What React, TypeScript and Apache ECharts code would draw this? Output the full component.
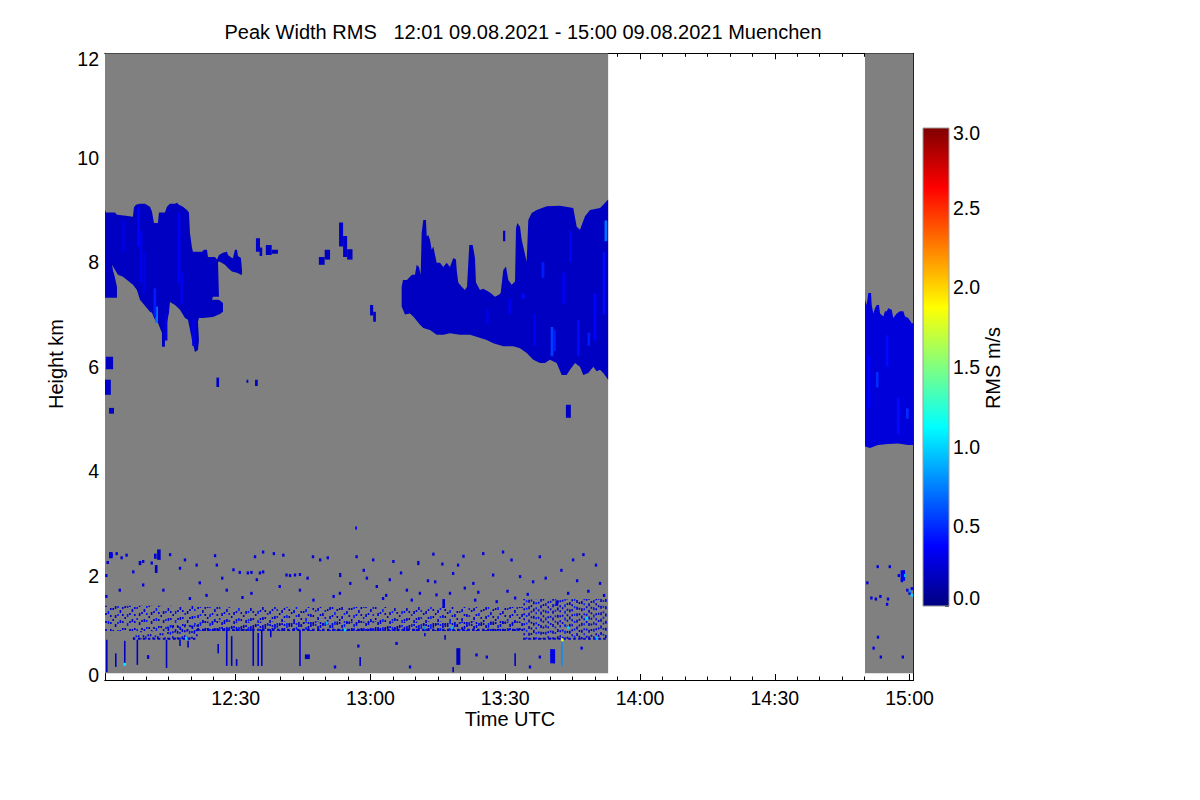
import React, { useEffect, useRef } from 'react';
import * as echarts from 'echarts';

const FONT = '"Liberation Sans", Arial, Helvetica, sans-serif';

const TITLE = 'Peak Width RMS   12:01 09.08.2021 - 15:00 09.08.2021 Muenchen';
const X_NAME = 'Time UTC';
const Y_NAME = 'Height km';
const CB_NAME = 'RMS m/s';

// time in minutes after 12:00 UTC, height in km, RMS in m/s
const timeRange = [0.9, 180.83];
const heightRange = [0, 12];
const rmsRange = [0, 3];
const xMajorMinutes = [30, 60, 90, 120, 150, 180];
const xMajorLabels = ['12:30', '13:00', '13:30', '14:00', '14:30', '15:00'];
const xMinorMinutes = [5, 10, 15, 20, 25, 35, 40, 45, 50, 55, 65, 70, 75, 80, 85, 95, 100, 105, 110, 115, 125, 130, 135, 140, 145, 155, 160, 165, 170, 175];

// periods with measurements (gray = no signal)
const coverage = [[0.9, 112.9], [170.08, 180.83]];
const coverageHeights = [0.13, 12];

// upper cloud outlines [minute, km]
const cloudA = [
  [0.89, 9.0], [1.11, 8.95], [3.12, 8.95], [3.56, 8.91], [5.57, 8.89], [7.12, 8.87], [7.35, 9.05], [7.79, 9.1], [8.68, 9.12], [9.8, 9.12], [10.91, 9.06], [11.35, 8.97], [11.8, 8.75], [12.69, 8.75], [12.91, 8.95], [14.25, 8.95], [14.69, 9.06], [15.36, 9.12], [16.47, 9.12], [16.92, 9.14], [17.36, 9.1], [18.25, 9.06], [19.14, 9.0], [19.59, 8.95], [19.81, 8.56], [20.26, 8.28], [20.48, 8.2], [22.48, 8.2], [22.93, 8.24], [23.6, 8.24], [23.82, 8.1], [25.38, 8.1], [25.82, 8.05], [26.27, 8.14], [27.16, 8.18], [28.05, 8.2], [28.27, 8.14], [29.16, 8.08], [29.39, 8.08], [29.83, 8.24], [30.28, 8.24], [30.5, 8.12], [31.17, 8.08], [31.39, 7.85], [31.39, 7.76],
  [31.17, 7.76], [30.28, 7.8], [29.16, 7.82], [28.27, 7.89], [27.6, 7.95], [26.49, 8.01], [26.05, 8.01], [26.27, 7.34], [24.93, 7.34], [24.71, 7.28], [26.27, 7.28], [27.16, 7.22], [27.16, 7.05], [26.49, 7.01], [24.93, 6.95], [22.71, 6.93], [21.82, 6.93], [21.59, 6.86], [21.82, 6.51], [21.59, 6.32], [20.93, 6.28], [20.26, 6.51], [20.04, 6.61], [19.37, 6.9], [18.7, 6.93], [17.59, 7.09], [16.47, 7.18], [15.36, 7.24], [15.14, 7.03], [14.69, 6.84], [14.25, 6.57], [14.25, 6.38], [13.58, 6.38], [13.58, 6.65], [13.13, 6.74], [12.69, 6.84], [12.02, 6.9], [11.35, 7.03], [10.91, 7.05], [8.68, 7.28], [8.01, 7.47], [7.12, 7.57], [4.9, 7.72], [3.78, 7.76], [2.45, 7.95], [2.67, 7.85], [3.12, 7.7], [3.56, 7.53], [3.56, 7.32], [0.89, 7.32],
];
const cloudB = [
  [66.94, 7.53], [67.23, 7.66], [68.12, 7.66], [69.23, 7.76], [69.9, 7.76], [70.28, 7.95], [70.79, 7.91], [71.17, 7.76], [71.39, 8.56], [71.75, 8.81], [72.35, 8.81], [72.51, 8.49], [72.86, 8.52], [73.24, 8.43], [73.62, 8.24], [73.98, 8.3], [74.73, 7.99], [75.47, 7.99], [76.2, 7.91], [76.96, 7.99], [77.69, 7.91], [78.43, 8.08], [79.03, 8.05], [79.19, 7.85], [79.54, 7.61], [80.3, 7.53], [81.03, 7.47], [81.48, 7.53], [81.99, 8.33], [82.75, 8.33], [83.26, 8.08], [83.48, 7.61], [84.37, 7.47], [85.11, 7.49], [86.6, 7.42], [87.71, 7.34], [88.67, 7.38], [88.98, 7.41], [89.56, 7.85], [90.16, 7.92], [90.67, 7.66], [91.43, 7.57], [92.17, 7.63], [92.39, 8.65], [92.68, 8.75], [93.28, 8.68], [93.66, 8.43], [94.77, 8.01], [95.13, 8.81], [95.88, 8.94], [97.0, 9.0], [99.22, 9.07], [102.18, 9.08], [105.14, 9.04], [105.9, 8.68], [106.63, 8.62], [107.75, 8.88], [108.86, 9.0], [111.09, 9.04], [111.82, 9.1], [112.9, 9.2],
  [112.9, 5.75], [111.82, 5.88], [111.09, 5.94], [110.35, 5.91], [109.6, 6.0], [108.48, 5.88], [107.37, 5.84], [106.63, 6.0], [105.52, 6.07], [104.41, 5.94], [103.67, 5.84], [102.56, 5.84], [101.45, 6.07], [99.96, 6.13], [98.84, 6.07], [97.73, 6.07], [96.24, 6.13], [94.77, 6.26], [93.28, 6.35], [91.79, 6.39], [89.56, 6.39], [87.33, 6.45], [85.86, 6.51], [82.15, 6.61], [79.92, 6.61], [77.69, 6.64], [76.2, 6.61], [74.73, 6.61], [73.24, 6.7], [71.75, 6.74], [71.02, 6.8], [69.52, 6.96], [68.79, 7.02], [67.68, 7.0], [66.94, 7.15],
];
const cloudC = [
  [170.08, 7.28], [170.46, 7.18], [170.82, 7.41], [171.42, 7.41], [171.57, 7.18], [171.93, 7.02], [172.31, 7.12], [172.69, 7.18], [173.2, 7.18], [173.42, 7.02], [174.16, 6.96], [174.53, 7.06], [174.91, 7.06], [175.26, 7.12], [176.02, 7.09], [176.38, 6.93], [177.14, 7.02], [177.87, 7.06], [178.61, 7.06], [178.99, 6.96], [179.72, 6.93], [180.48, 6.83], [180.83, 6.83],
  [180.83, 4.5], [179.65, 4.5], [177.43, 4.53], [175.2, 4.52], [172.97, 4.5], [171.19, 4.44], [170.08, 4.47],
];
const cloudOutlines = [cloudA, cloudB, cloudC];
const cloudRms = [0.2, 0.2, 0.27];

// brighter vertical streaks inside the clouds [minute, km bottom, km top, rms]
const cloudStreaks = [
  [8.4, 8.3, 9.05, 0.38], [8.9, 7.6, 8.6, 0.33], [9.6, 7.4, 8.2, 0.3], [12.4, 6.84, 7.15, 0.7], [12.0, 6.95, 7.5, 0.45], [17.4, 7.6, 8.95, 0.35], [18.0, 7.2, 7.8, 0.32], [5.0, 8.2, 8.8, 0.3], [20.6, 6.4, 6.9, 0.3], [14.5, 6.5, 7.0, 0.3],
  [98.4, 7.7, 8.0, 0.45], [100.4, 6.2, 6.76, 0.55], [101.0, 6.3, 6.7, 0.45], [108.6, 6.4, 6.65, 0.45], [112.4, 8.4, 8.8, 0.7], [112.0, 7.0, 8.2, 0.4], [94.0, 7.3, 7.4, 0.4], [104.5, 8.0, 8.6, 0.35], [106.3, 6.2, 6.9, 0.4], [110.0, 6.5, 7.4, 0.38], [96.5, 6.4, 7.0, 0.35], [103.0, 7.2, 7.8, 0.35], [91.0, 7.0, 7.3, 0.33], [86.0, 6.8, 7.1, 0.3],
  [172.8, 5.6, 5.9, 0.5], [179.5, 5.0, 5.2, 0.5], [175.0, 6.0, 6.6, 0.4], [177.5, 4.7, 5.4, 0.4], [171.0, 5.2, 6.2, 0.38],
];

// isolated echo patches [minute from, minute to, km bottom, km top, rms]
const patches = [
  [1.1, 2.7, 5.95, 6.19, 0.2], [0.9, 2.2, 5.46, 5.75, 0.22], [1.8, 2.9, 5.1, 5.21, 0.2], [25.7, 26.3, 5.61, 5.79, 0.2], [32.4, 32.8, 5.69, 5.75, 0.2], [34.3, 34.9, 5.63, 5.75, 0.2],
  [34.5, 35.4, 8.2, 8.46, 0.22], [35.3, 35.9, 8.12, 8.28, 0.2], [36.7, 38.0, 8.14, 8.33, 0.2], [38.0, 39.4, 8.16, 8.24, 0.2], [48.5, 49.8, 7.95, 8.1, 0.2], [49.8, 51.0, 8.05, 8.24, 0.2],
  [53.0, 53.9, 8.3, 8.76, 0.22], [53.9, 54.8, 8.1, 8.5, 0.22], [54.8, 56.0, 8.05, 8.25, 0.2], [59.9, 60.6, 6.98, 7.18, 0.2], [60.6, 61.2, 6.86, 7.05, 0.2], [103.5, 104.6, 5.02, 5.27, 0.2], [89.5, 90.0, 8.4, 8.6, 0.2], [56.6, 57.0, 2.88, 2.94, 0.3],
  [12.0, 12.6, 2.05, 2.2, 0.2], [12.5, 13.3, 2.3, 2.5, 0.2], [11.8, 12.4, 2.32, 2.42, 0.25], [1.8, 2.6, 2.33, 2.45, 0.25], [8.4, 9.0, 2.2, 2.28, 0.2], [53.0, 53.5, 1.97, 2.05, 0.2], [70.4, 70.9, 2.2, 2.28, 0.2],
  [76.0, 76.6, 1.38, 1.55, 0.25], [101.2, 101.8, 1.42, 1.52, 0.25], [79.1, 80.0, 0.29, 0.61, 0.2], [45.4, 46.5, 0.4, 0.49, 0.2], [100.0, 101.1, 0.32, 0.59, 0.3], [178.0, 179.0, 1.9, 2.1, 0.35],
];

// boundary-layer clutter band [minute from, minute to, km bottom, km top, density]
const clutterBand = [
  [0.9, 21.4, 0.94, 1.42, 1], [21.4, 94.0, 0.94, 1.4, 1], [21.4, 94.0, 0.94, 1.12, 1], [94.0, 112.9, 0.78, 1.55, 2], [7.1, 14.7, 0.78, 0.94, 1], [14.7, 21.4, 0.78, 1.05, 2],
];
const clutterEdges = [[21.4, 94.0, 0.96], [7.1, 21.4, 0.79], [94.0, 112.9, 0.79]];

// single echo pixels [minute, km]
const echoDots = [
  [2.4, 2.39], [3.5, 2.42], [4.6, 2.34], [5.7, 2.39], [7.2, 2.07], [9.4, 2.27], [11.3, 2.24], [15.4, 2.4], [17.6, 2.14], [18.7, 2.3], [21.3, 2.2], [22.0, 1.86], [25.4, 2.38], [25.8, 2.2], [29.5, 2.11], [30.9, 2.06], [32.7, 2.05], [33.5, 2.06], [35.4, 2.05], [36.1, 2.07], [34.3, 2.36], [36.1, 2.45], [40.6, 2.39], [41.3, 2.01], [42.1, 2.0], [43.2, 2.01], [44.3, 2.02], [47.2, 2.36], [48.8, 2.3], [50.5, 2.34], [56.9, 2.36], [59.2, 1.95], [60.6, 2.3], [64.3, 1.92], [65.1, 2.27], [74.0, 2.41], [74.4, 1.88], [77.7, 1.66], [78.4, 2.04], [79.5, 2.2], [80.7, 2.37], [82.9, 1.85], [85.1, 2.42], [87.3, 2.01], [91.4, 2.3], [93.3, 1.98], [96.2, 1.88], [97.7, 2.36], [105.1, 2.3], [107.4, 2.4], [111.1, 1.85],
  [83.3, 1.53], [88.1, 1.5], [44.3, 1.72], [47.3, 1.53], [53.2, 1.66], [61.4, 1.79], [62.8, 1.56], [68.1, 1.72], [69.2, 1.53], [71.0, 1.66], [74.7, 1.63], [81.0, 1.76], [92.2, 1.57], [4.2, 1.72], [9.4, 1.82], [13.9, 1.72], [19.8, 1.56], [28.0, 1.72], [33.5, 1.66], [34.7, 1.92], [39.8, 1.79],
  [1.2, 2.0], [1.2, 1.6], [1.5, 2.25], [23.5, 1.62], [27.0, 1.95], [31.5, 1.58], [38.5, 2.42], [46.0, 1.95], [51.8, 1.6], [55.5, 1.85], [58.5, 2.1], [63.5, 1.62], [66.8, 2.05], [72.8, 1.9], [76.0, 2.22], [84.0, 1.68], [89.5, 2.45], [90.5, 1.7], [95.0, 1.64], [99.0, 1.95], [102.5, 2.1], [104.0, 1.66], [106.0, 1.9], [108.5, 1.7], [110.2, 2.2], [112.0, 1.62],
  [52.1, 0.25], [57.3, 0.65], [65.8, 0.7], [68.8, 0.25], [85.9, 0.44], [83.6, 0.48], [95.5, 0.25], [107.0, 0.61], [97.7, 0.44], [10.5, 0.44],
  [172.9, 2.17], [175.6, 2.17], [170.6, 1.86], [171.5, 1.57], [172.5, 1.55], [173.5, 1.6], [175.0, 1.45], [175.2, 1.55], [177.6, 2.0], [178.3, 1.9], [178.7, 2.07], [179.5, 1.72], [180.0, 1.66], [180.5, 1.75], [172.97, 0.82], [172.0, 0.61], [173.6, 0.44], [178.5, 0.44],
];
// brighter single pixels [minute, km, rms]
const brightDots = [
  [19.0, 0.8, 1.0], [50.3, 1.09, 0.9], [54.3, 0.96, 1.0], [72.1, 1.0, 0.8], [78.1, 1.0, 0.9], [102.7, 0.77, 1.9], [104.0, 1.0, 1.0], [108.2, 1.18, 1.0], [110.4, 0.8, 0.9], [5.3, 0.3, 1.1], [179.0, 2.0, 0.9], [180.2, 1.7, 0.8], [180.5, 1.62, 1.0],
];
// thin vertical streaks below the clutter band [minute, km bottom, km top, rms]
const lowStreaks = [
  [1.3, 0.15, 0.77, 0.2], [3.3, 0.25, 0.51, 0.2], [5.3, 0.27, 0.75, 0.2], [8.1, 0.29, 0.77, 0.2], [10.5, 0.4, 0.48, 0.2], [14.6, 0.23, 0.77, 0.2], [17.6, 0.65, 0.77, 0.2], [19.4, 0.62, 0.75, 0.2], [26.1, 0.51, 0.69, 0.2], [28.0, 0.27, 0.96, 0.22], [29.1, 0.27, 0.84, 0.22], [30.2, 0.27, 0.4, 0.2], [33.9, 0.27, 0.96, 0.22], [35.0, 0.27, 0.9, 0.22], [35.8, 0.27, 0.96, 0.22], [37.8, 0.82, 0.96, 0.2], [44.3, 0.27, 0.96, 0.22], [57.7, 0.27, 0.44, 0.2], [72.1, 0.84, 0.9, 0.2], [76.6, 0.77, 0.86, 0.2], [78.4, 0.15, 0.25, 0.2], [92.2, 0.27, 0.51, 0.2], [102.6, 0.27, 0.77, 0.8], [100.3, 0.4, 0.59, 0.3], [100.8, 0.32, 0.5, 0.3],
];

function jet(v: number): string {
  const x = Math.max(0, Math.min(1, (v - rmsRange[0]) / (rmsRange[1] - rmsRange[0])));
  const c = (q: number) => Math.round(255 * Math.max(0, Math.min(1, 1.5 - Math.abs(4 * x - q))));
  return `rgb(${c(3)},${c(2)},${c(1)})`;
}

const GRID = { left: 105, top: 53.3, width: 808.3, height: 626.7 };
const CBAR = { left: 923, top: 128, width: 26, height: 478 };
// speckle styling for the clutter band
const SPECKLE_OFFSETS = [0, 3, 7, 1, 5, 9, 2, 6, 10, 4, 8, 1, 6];
const SPECKLE_DASHES = [[2, 6], [3, 7], [2, 5], [2, 9], [3, 6]];

function xAxisDef(position: string, values: number[], len: number, labels: boolean) {
  return {
    type: 'value', gridIndex: 0, position, min: timeRange[0], max: timeRange[1],
    axisLine: { show: true, onZero: false, lineStyle: { color: '#000', width: 1 } },
    axisTick: { show: true, inside: true, length: len, customValues: values, lineStyle: { color: '#000', width: 1 } },
    axisLabel: {
      show: labels, customValues: values, margin: 8, fontSize: 19.5, fontFamily: FONT, color: '#000',
      formatter: (v: number) => { const i = xMajorMinutes.indexOf(Math.round(v)); return i >= 0 ? xMajorLabels[i] : ''; },
    },
    splitLine: { show: false }, minorTick: { show: false },
  };
}

function yAxisDef(position: string, labels: boolean) {
  return {
    type: 'value', gridIndex: 0, position, min: heightRange[0], max: heightRange[1], interval: 2,
    axisLine: { show: true, onZero: false, lineStyle: { color: '#000', width: 1 } },
    axisTick: { show: true, inside: true, length: 6, lineStyle: { color: '#000', width: 1 } },
    minorTick: { show: true, splitNumber: 4, length: 3.5, lineStyle: { color: '#000', width: 1 } },
    axisLabel: {
      show: labels, margin: 6, fontSize: 19.5, fontFamily: FONT, color: '#000',
      formatter: (v: number) => (v === heightRange[1] ? `{top|${v}}` : v === heightRange[0] ? `{bot|${v}}` : String(v)),
      rich: {
        top: { fontSize: 19.5, fontFamily: FONT, color: '#000', padding: [12, 0, 0, 0] },
        bot: { fontSize: 19.5, fontFamily: FONT, color: '#000', padding: [0, 0, 10, 0] },
      },
    },
    splitLine: { show: false },
  };
}

function buildOption() {
  const dark = jet(0.22);
  const bright = jet(0.45);
  const base = { type: 'custom', xAxisIndex: 0, yAxisIndex: 0, silent: true, clip: true };
  return {
    animation: false,
    backgroundColor: '#fff',
    grid: [
      { ...GRID, containLabel: false },
      { ...CBAR, containLabel: false },
    ],
    xAxis: [
      xAxisDef('bottom', xMajorMinutes, 6, true),
      xAxisDef('bottom', xMinorMinutes, 3.5, false),
      xAxisDef('top', xMajorMinutes, 6, false),
      xAxisDef('top', xMinorMinutes, 3.5, false),
      { type: 'value', gridIndex: 1, min: 0, max: 1, show: false },
    ],
    yAxis: [
      yAxisDef('left', true),
      yAxisDef('right', false),
      {
        type: 'value', gridIndex: 1, position: 'right', min: rmsRange[0], max: rmsRange[1], interval: 0.5,
        axisLine: { show: false, onZero: false },
        axisTick: { show: true, inside: true, length: 4, lineStyle: { color: '#333', width: 1 } },
        minorTick: { show: true, splitNumber: 3, length: 4, lineStyle: { color: '#333', width: 1 } },
        axisLabel: {
          margin: 4, fontSize: 19.5, fontFamily: FONT, color: '#000',
          formatter: (v: number) => (v === rmsRange[1] ? `{top|${v.toFixed(1)}}` : v === rmsRange[0] ? `{bot|${v.toFixed(1)}}` : v.toFixed(1)),
          rich: {
            top: { fontSize: 19.5, fontFamily: FONT, color: '#000', padding: [10, 0, 0, 0] },
            bot: { fontSize: 19.5, fontFamily: FONT, color: '#000', padding: [0, 0, 16, 0] },
          },
        },
        splitLine: { show: false },
      },
    ],
    graphic: [
      { type: 'text', x: 523, y: 32, style: { text: TITLE, fontSize: 20, fontFamily: FONT, fill: '#000', align: 'center', verticalAlign: 'middle', textAlign: 'center', textVerticalAlign: 'middle' } },
      { type: 'text', x: 510, y: 719, style: { text: X_NAME, fontSize: 20, fontFamily: FONT, fill: '#000', align: 'center', verticalAlign: 'middle', textAlign: 'center', textVerticalAlign: 'middle' } },
      { type: 'text', x: 56, y: 364, rotation: Math.PI / 2, style: { text: Y_NAME, fontSize: 20, fontFamily: FONT, fill: '#000', align: 'center', verticalAlign: 'middle', textAlign: 'center', textVerticalAlign: 'middle' } },
      { type: 'text', x: 993, y: 368, rotation: Math.PI / 2, style: { text: CB_NAME, fontSize: 20, fontFamily: FONT, fill: '#000', align: 'center', verticalAlign: 'middle', textAlign: 'center', textVerticalAlign: 'middle' } },
    ],
    series: [
      {
        ...base, data: coverage,
        renderItem: (params: any, api: any) => {
          const p0 = api.coord([api.value(0), coverageHeights[1]]);
          const p1 = api.coord([api.value(1), coverageHeights[0]]);
          return { type: 'rect', shape: { x: p0[0], y: p0[1], width: p1[0] - p0[0], height: p1[1] - p0[1] }, style: { fill: '#808080' } };
        },
      },
      {
        ...base, data: cloudOutlines.map((c, i) => [c[0][0], c[0][1], cloudRms[i]]),
        renderItem: (params: any, api: any) => {
          const pts = cloudOutlines[params.dataIndex].map((p) => api.coord(p));
          return { type: 'polygon', shape: { points: pts }, style: { fill: jet(cloudRms[params.dataIndex]) } };
        },
      },
      {
        ...base, data: cloudStreaks,
        renderItem: (params: any, api: any) => {
          const [t, h0, h1, v] = cloudStreaks[params.dataIndex];
          const a = api.coord([t - 0.3, h1]);
          const b = api.coord([t + 0.3, h0]);
          return { type: 'rect', shape: { x: a[0], y: a[1], width: b[0] - a[0], height: b[1] - a[1] }, style: { fill: jet(v) } };
        },
      },
      {
        ...base, data: patches,
        renderItem: (params: any, api: any) => {
          const [t0, t1, h0, h1, v] = patches[params.dataIndex];
          const a = api.coord([t0, h1]);
          const b = api.coord([t1, h0]);
          return { type: 'rect', shape: { x: a[0], y: a[1], width: b[0] - a[0], height: b[1] - a[1] }, style: { fill: jet(v) } };
        },
      },
      {
        ...base, data: clutterEdges,
        renderItem: (params: any, api: any) => {
          const [t0, t1, h] = clutterEdges[params.dataIndex];
          const a = api.coord([t0, h]);
          const b = api.coord([t1, h]);
          return { type: 'line', shape: { x1: a[0], y1: a[1], x2: b[0], y2: b[1] }, style: { stroke: dark, lineWidth: 2.2, lineDash: [2.5, 2.5] } };
        },
      },
      {
        ...base, data: clutterBand,
        renderItem: (params: any, api: any) => {
          const [t0, t1, hL, hH, dens] = clutterBand[params.dataIndex];
          const a = api.coord([t0, hL]);
          const b = api.coord([t1, hH]);
          const children: any[] = [];
          let k = params.dataIndex * 4;
          const scale = dens === 2 ? 0.6 : 1;
          for (let x = a[0] + 1; x < b[0]; x += 2.4) {
            const d = SPECKLE_DASHES[k % SPECKLE_DASHES.length];
            children.push({
              type: 'line', shape: { x1: x, y1: a[1], x2: x, y2: b[1] },
              style: { stroke: k % 4 === 1 ? bright : dark, lineWidth: 1.6, lineDash: [d[0], d[1] * scale], lineDashOffset: SPECKLE_OFFSETS[k % SPECKLE_OFFSETS.length] },
            });
            k++;
          }
          return { type: 'group', children };
        },
      },
      {
        ...base, data: lowStreaks,
        renderItem: (params: any, api: any) => {
          const [t, h0, h1, v] = lowStreaks[params.dataIndex];
          const a = api.coord([t, h0]);
          const b = api.coord([t, h1]);
          return { type: 'line', shape: { x1: a[0], y1: a[1], x2: b[0], y2: b[1] }, style: { stroke: jet(v), lineWidth: 1.6 } };
        },
      },
      {
        ...base, data: echoDots,
        renderItem: (params: any, api: any) => {
          const p = api.coord([api.value(0), api.value(1)]);
          return { type: 'rect', shape: { x: p[0] - 1.2, y: p[1] - 1.5, width: 2.4, height: 3 }, style: { fill: jet(0.28) } };
        },
      },
      {
        ...base, data: brightDots,
        renderItem: (params: any, api: any) => {
          const p = api.coord([api.value(0), api.value(1)]);
          return { type: 'rect', shape: { x: p[0] - 1.2, y: p[1] - 1.5, width: 2.4, height: 3 }, style: { fill: jet(api.value(2)) } };
        },
      },
      {
        type: 'custom', xAxisIndex: 4, yAxisIndex: 2, silent: true, data: [[0, 0]],
        renderItem: (params: any, api: any) => {
          const a = api.coord([0, rmsRange[1]]);
          const b = api.coord([1, rmsRange[0]]);
          const stops = [0, 0.125, 0.375, 0.625, 0.875, 1].map((o) => ({ offset: o, color: jet(rmsRange[0] + o * (rmsRange[1] - rmsRange[0])) }));
          return {
            type: 'rect', shape: { x: a[0], y: a[1], width: b[0] - a[0], height: b[1] - a[1] },
            style: { fill: new echarts.graphic.LinearGradient(0, 1, 0, 0, stops), stroke: '#9a9a9a', lineWidth: 1 },
          };
        },
      },
    ],
  };
}

export default function App() {
  const ref = useRef<HTMLDivElement>(null);
  useEffect(() => {
    if (!ref.current) return;
    const chart = echarts.init(ref.current, undefined, { renderer: 'svg' });
    chart.setOption(buildOption() as any);
    return () => chart.dispose();
  }, []);
  return <div ref={ref} style={{ position: 'fixed', left: 0, top: 0, width: 1200, height: 800, background: '#fff' }} />;
}
